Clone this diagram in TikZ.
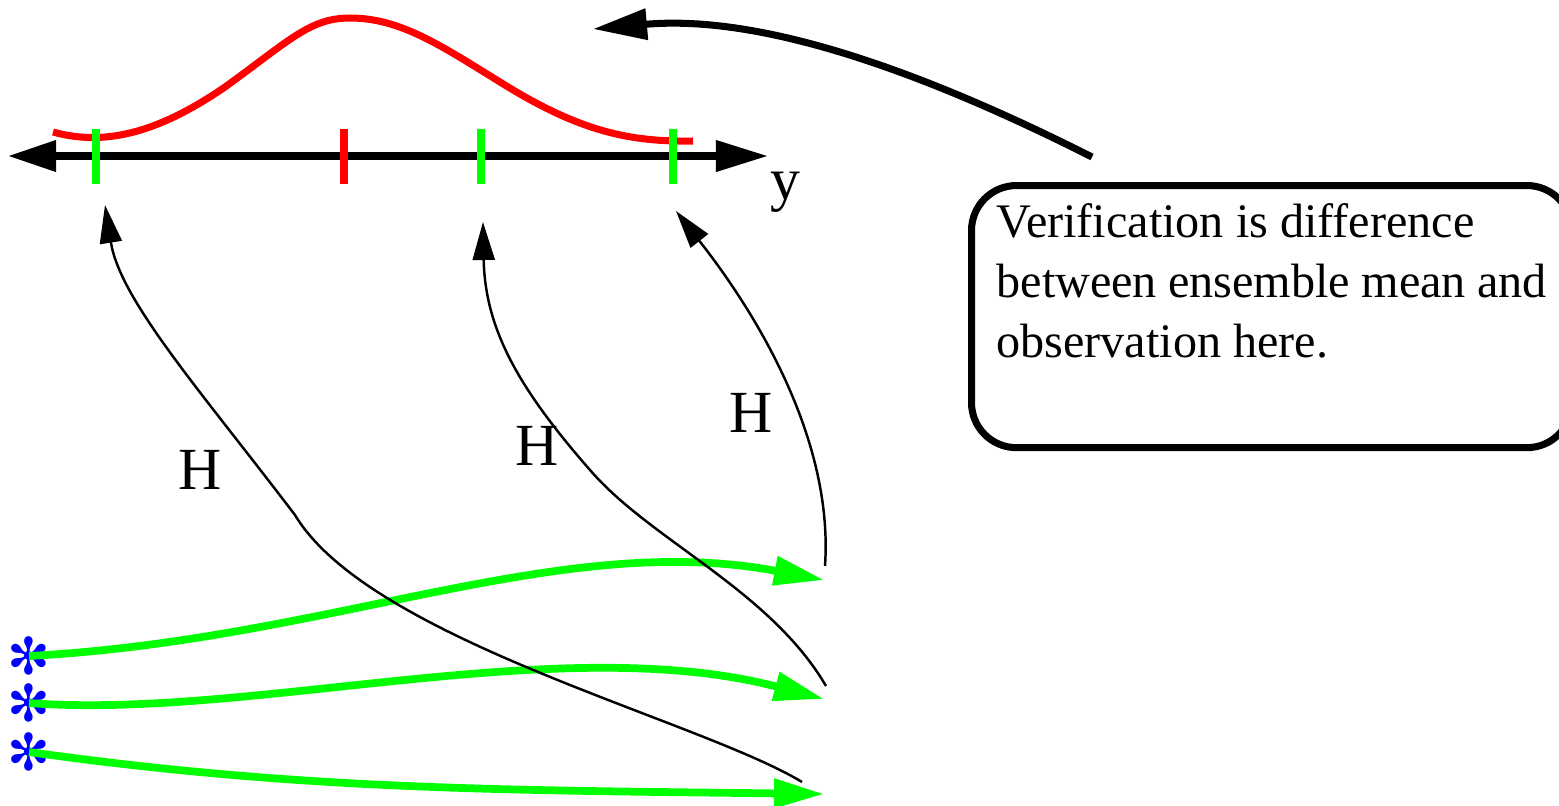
\documentclass[tikz,border=0pt]{standalone}
\usepackage{fontspec}
\setmainfont{Liberation Serif}
\newfontfamily\symfont{DejaVu Sans}
\usepackage{xcolor}
\usetikzlibrary{arrows.meta,positioning}

\begin{document}
\begin{tikzpicture}[x=0.01cm, y=-0.01cm,
  axisline/.style={draw, line width=2pt, {Triangle[length=4.8mm,width=3mm]}-{Triangle[length=5.2mm,width=3mm]}},
  tickmark/.style={line width=2pt},
  pdfcurve/.style={draw=red, line width=2pt},
  fwdline/.style={draw=green, line width=2.2pt, -{Triangle[length=5mm,width=2.8mm]}},
  obsop/.style={draw, line width=0.7pt, -{Triangle[length=3.8mm,width=2.2mm]}},
  noteline/.style={draw, line width=2pt, -{Triangle[length=5.4mm,width=3mm]}},
  member/.style={text=blue, inner sep=0pt, font=\symfont\fontsize{14.5}{14.5}\selectfont},
  oplabel/.style={anchor=base, inner sep=0pt, font=\fontsize{17}{20}\selectfont},
  notebox/.style={draw, line width=2pt, rounded corners=0.45cm, anchor=north west, inner xsep=0.25cm, inner ysep=0.18cm, font=\fontsize{13.7}{17}\selectfont}]
  \useasboundingbox (0,0) rectangle (1559,805);

  % prior pdf and the observation axis
  \draw[pdfcurve] (53,132) .. controls (110,148) and (165,128) .. (225,87)
    .. controls (290,40) and (310,18) .. (350,18)
    .. controls (400,18) and (440,45) .. (500,82)
    .. controls (580,132) and (630,142) .. (693,141);
  \coordinate (yleft) at (8,156);
  \coordinate (yright) at (768,156);
  \path[axisline] (yleft) -- (yright);
  \node[oplabel] (ylab) at (785,199) {y};
  \draw[tickmark, green] (96,129) -- (96,184);
  \draw[tickmark, red] (344,129) -- (344,184);
  \draw[tickmark, green] (481,129) -- (481,184);
  \draw[tickmark, green] (673,129) -- (673,184);

  % ensemble members and forward model
  \node[member] (m1) at (29,656) {✻};
  \node[member] (m2) at (29,703) {✻};
  \node[member] (m3) at (29,752) {✻};
  \coordinate (f1) at (824,580);
  \coordinate (f2) at (824,699);
  \coordinate (f3) at (824,794);
  \draw[fwdline] (m1.center) .. controls (330,640) and (560,530) .. (f1);
  \draw[fwdline] (m2.center) .. controls (250,720) and (560,630) .. (f2);
  \draw[fwdline] (m3.center) .. controls (300,790) and (500,790) .. (f3);

  % observation operator
  \coordinate (h1) at (802,782);
  \coordinate (h2) at (826,686);
  \coordinate (h3) at (825,566);
  \coordinate (g1) at (105,205);
  \coordinate (g2) at (483,222);
  \coordinate (g3) at (676,211);
  \draw[obsop] (h1) .. controls (700,720) and (370,640) .. (295,515) .. controls (200,390) and (120,300) .. (g1);
  \draw[obsop] (h2) .. controls (770,590) and (650,540) .. (590,470) .. controls (520,390) and (485,330) .. (g2);
  \draw[obsop] (h3) .. controls (835,420) and (730,280) .. (g3);
  \node[oplabel] (hlab1) at (200,489) {H};
  \node[oplabel] (hlab2) at (537,465) {H};
  \node[oplabel] (hlab3) at (751,432) {H};

  % note
  \node[notebox] (verif) at (968,182) {\begin{minipage}[t][2.26cm][t]{5.5cm}Verification is difference\\between ensemble mean and\\observation here.\end{minipage}};
  \coordinate (nstart) at (1092,157);
  \coordinate (nend) at (593,29);
  \draw[noteline] (nstart) .. controls (900,60) and (750,15) .. (nend);
\end{tikzpicture}
\end{document}
